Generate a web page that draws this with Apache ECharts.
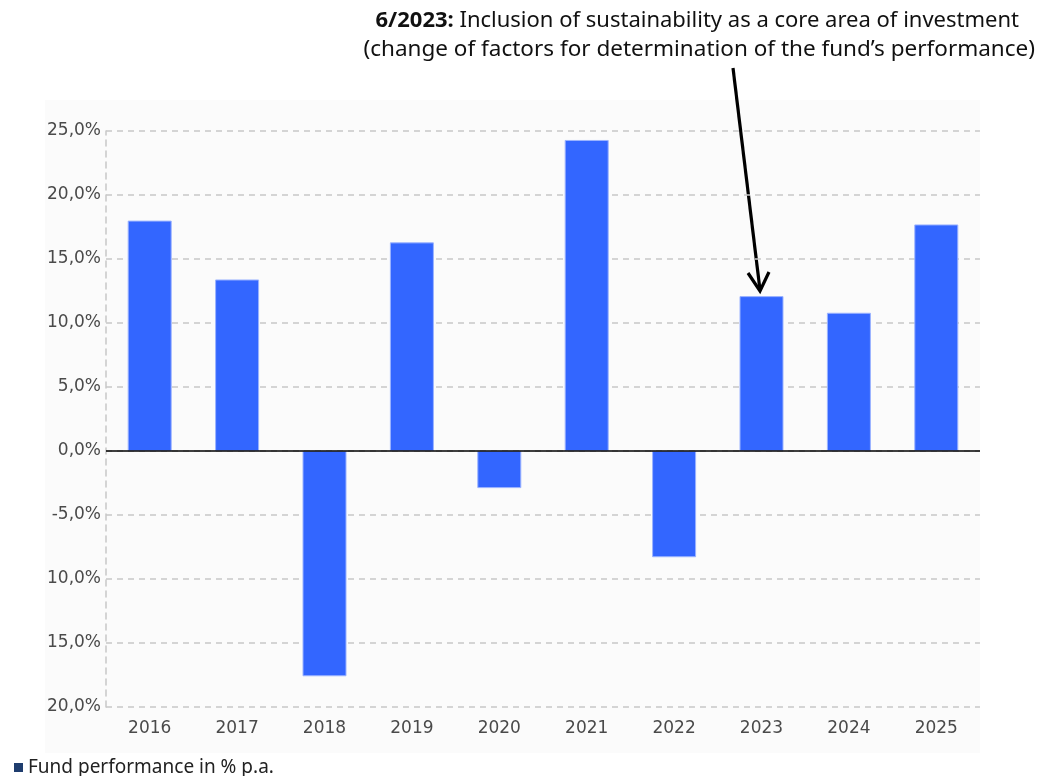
<!DOCTYPE html>
<html>
<head>
<meta charset="utf-8">
<script src="https://cdn.jsdelivr.net/npm/echarts@6/dist/echarts.min.js"></script>
<style>html,body{margin:0;padding:0;background:#fff}#c{width:1039px;height:776px}</style>
</head>
<body>
<div id="c"></div>
<script>
const categories = ['2016','2017','2018','2019','2020','2021','2022','2023','2024','2025'];
const performance = [18.0, 13.4, -17.6, 16.3, -2.9, 24.3, -8.3, 12.1, 10.8, 17.7];
const yTicks = [-20, -15, -10, -5, 0, 5, 10, 15, 20, 25];
const seriesName = 'Fund performance in % p.a.';
const noteBold = '6/2023:';
const noteLine1 = ' Inclusion of sustainability as a core area of investment';
const noteLine2 = '(change of factors for determination of the fund\u2019s performance)';

const chart = echarts.init(document.getElementById('c'), null, {renderer:'canvas'});
function fmt(v){
  let s = Math.abs(v).toFixed(1).replace('.', ',') + '%';
  // labels with minus wider than the panel appear clipped in the reference
  if (v < 0 && Math.abs(v) < 10) s = '-' + s;
  return s;
}
const noteFont1 = {fontSize:22, fontFamily:'Noto Sans', fill:'#111'};
const noteFont2 = {fontSize:22.5, fontFamily:'Noto Sans', fill:'#111'};
chart.setOption({
  animation:false,
  backgroundColor:'#ffffff',
  graphic:[
    {type:'rect', z:-10, shape:{x:45,y:100,width:935,height:653}, style:{fill:'#fbfbfb'}},
    {type:'text', x:1019, y:21, style:{
      rich:{b:Object.assign({fontWeight:'bold'}, noteFont1), n:noteFont1},
      text:'{b|'+noteBold+'}{n|'+noteLine1+'}', verticalAlign:'middle', align:'right'
    }},
    {type:'text', x:1035, y:50, style:Object.assign({text:noteLine2, verticalAlign:'middle', align:'right'}, noteFont2)},
    {type:'line', shape:{x1:733,y1:68,x2:760,y2:290}, style:{stroke:'#000',lineWidth:3.2}},
    {type:'polyline', shape:{points:[[748,273],[760,291],[769,272]]}, style:{stroke:'#000',lineWidth:3.2,fill:null}}
  ],
  legend:{
    left:9, top:753, icon:'rect', itemWidth:9, itemHeight:9, itemGap:8,
    textStyle:{fontFamily:'Noto Sans',fontSize:19,color:'#222'},
    data:[{name:seriesName, itemStyle:{color:'#1f3d6e', borderWidth:0}}]
  },
  grid:{left:106,right:59,top:131,bottom:69,containLabel:false},
  xAxis:{
    type:'category', data:categories,
    axisLine:{show:false}, axisTick:{show:false},
    axisLabel:{margin:13, fontFamily:'DejaVu Sans', fontSize:17, color:'#4a4a4a'}
  },
  yAxis:{
    type:'value', min:-20, max:25, interval:5,
    axisLine:{show:true, lineStyle:{color:'#c8c8c8', type:[6,5], width:1.5}},
    axisTick:{show:false},
    splitLine:{show:true, lineStyle:{color:'#c8c8c8', type:[6,5], width:1.5}},
    axisLabel:{margin:5, fontFamily:'DejaVu Sans', fontSize:17, color:'#4a4a4a', formatter:fmt}
  },
  series:[{
    name:seriesName, type:'bar', data:performance, barWidth:44,
    itemStyle:{color:'#3366ff', borderColor:'#9bb3ff', borderWidth:1},
    markLine:{silent:true, symbol:['none','none'], label:{show:false},
      lineStyle:{color:'#000', type:'solid', width:1.6},
      data:[{yAxis:0}]}
  }]
});
</script>
</body>
</html>
